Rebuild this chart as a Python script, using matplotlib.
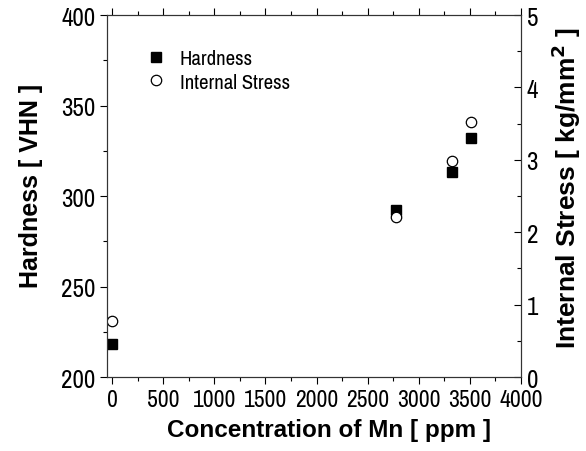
import matplotlib.pyplot as plt
from matplotlib.ticker import MultipleLocator

plt.rcParams['font.family'] = ['Liberation Sans', 'DejaVu Sans']
NARROW = ['Archivo Narrow', 'Liberation Sans', 'DejaVu Sans']

mn_ppm = [0, 2780, 3330, 3510]
hardness = [218, 292, 313, 332]
internal_stress = [0.78, 2.21, 2.99, 3.52]

fig = plt.figure(figsize=(5.86, 4.52), dpi=100)
ax = fig.add_axes([0.1826, 0.1637, 0.7064, 0.8009])
ax2 = ax.twinx()

h1, = ax.plot(mn_ppm, hardness, linestyle='none', marker='s', ms=7,
              mfc='black', mec='black', label='Hardness')
h2, = ax2.plot(mn_ppm, internal_stress, linestyle='none', marker='o', ms=7.5,
               mfc='white', mec='black', mew=0.9, label='Internal Stress')

ax.set_xlim(-50, 4000)
ax.set_ylim(200, 400)
ax2.set_ylim(0, 5)

ax.xaxis.set_major_locator(MultipleLocator(500))
ax.xaxis.set_minor_locator(MultipleLocator(250))
ax.yaxis.set_major_locator(MultipleLocator(50))
ax.yaxis.set_minor_locator(MultipleLocator(25))
ax2.yaxis.set_major_locator(MultipleLocator(1))
ax2.yaxis.set_minor_locator(MultipleLocator(0.5))

ax.tick_params(which='both', direction='out', top=True, width=0.8)
ax.tick_params(which='major', length=5)
ax.tick_params(which='minor', length=3)
ax2.tick_params(which='both', direction='in', width=0.8, pad=4)
ax2.tick_params(which='major', length=5)
ax2.tick_params(which='minor', length=3)
for lab in ax.get_xticklabels():
    lab.set_family(NARROW)
    lab.set_fontsize(17)
for lab in ax.get_yticklabels() + ax2.get_yticklabels():
    lab.set_family(NARROW)
    lab.set_fontsize(18)
for a in (ax, ax2):
    for s in a.spines.values():
        s.set_linewidth(0.8)
        s.set_color('#333333')

ax.set_xlabel('Concentration of Mn [ ppm ]', fontsize=17.5, fontweight='bold')
ax.xaxis.set_label_coords(0.536, -0.113)
ax.set_ylabel('Hardness [ VHN ]', fontsize=18, fontweight='bold')
ax.yaxis.set_label_coords(-0.155, 0.53)
ax2.set_ylabel('Internal Stress [ kg/mm$^\\mathbf{2}$ ]', fontsize=19, fontweight='bold')
ax2.yaxis.set_label_coords(1.07, 0.525)

ax2.legend(handles=[h1, h2], loc='upper left', bbox_to_anchor=(0.093, 0.905),
           frameon=False, prop={'family': NARROW, 'size': 15},
           borderpad=0, borderaxespad=0,
           handletextpad=0.65, labelspacing=0.2, handlelength=1.0)

fig.savefig('out.png', dpi=100)
